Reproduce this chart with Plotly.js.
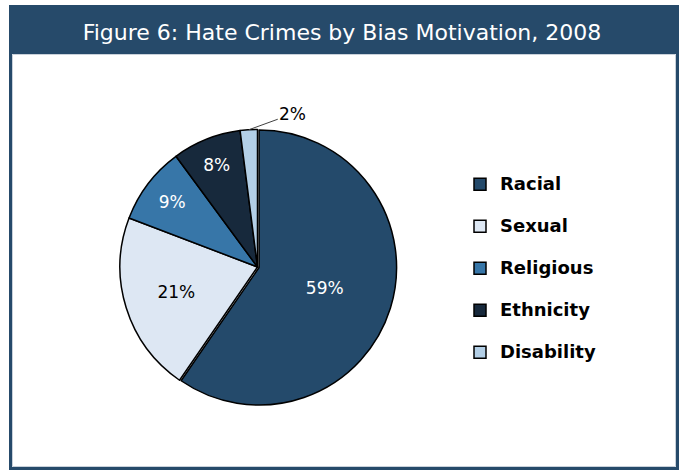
<!DOCTYPE html>
<html>
<head>
<meta charset="utf-8">
<script src="https://cdn.plot.ly/plotly-3.0.1.min.js"></script>
<style>html,body{margin:0;padding:0;background:#fff;}#chart{width:679px;height:470px;}</style>
</head>
<body>
<div id="chart"></div>
<script>
var categories = ["Racial", "Sexual", "Religious", "Ethnicity", "Disability"];
var percentages = [59, 21, 9, 8, 2];
var sliceColors = ["#244a6b", "#dde7f3", "#3776a8", "#17293c", "#b3cfe6"];
var labelColors = ["#ffffff", "#000000", "#ffffff", "#ffffff", "#000000"];
var labelPositions = ["inside", "inside", "inside", "inside", "none"];
var pulls = [0.012, 0, 0, 0, 0];
var chartTitle = "Figure 6: Hate Crimes by Bias Motivation, 2008";

var W = 679, H = 470;
function px(x) { return x / W; }
function py(y) { return 1 - y / H; }

var legendLabels = categories.map(function (c) {
  return '<span style="font-size:18px">' + c + '</span><br> ';
});

var cx = 257.5, cy = 267, r0 = 137.5, r = r0 * 1.012;

// leader label for the small last slice, placed from its data-derived mid-angle
var total = percentages.reduce(function (a, b) { return a + b; }, 0);
var lastIdx = percentages.length - 1;
var before = percentages.slice(0, lastIdx).reduce(function (a, b) { return a + b; }, 0);
var midAngle = (before + percentages[lastIdx] / 2) / total * 2 * Math.PI;
var edgeX = cx + r0 * Math.sin(midAngle);
var edgeY = cy - r0 * Math.cos(midAngle);

var trace = {
  type: "pie",
  labels: legendLabels,
  values: percentages,
  sort: false,
  direction: "clockwise",
  rotation: 0,
  pull: pulls,
  marker: { colors: sliceColors, line: { color: "#000000", width: 1.5 } },
  texttemplate: "%{value}%",
  textposition: labelPositions,
  insidetextorientation: "horizontal",
  textfont: { family: "DejaVu Sans", size: 17, color: labelColors },
  hoverinfo: "none",
  automargin: false,
  domain: { x: [px(cx - r), px(cx + r)], y: [py(cy + r), py(cy - r)] }
};

var layout = {
  width: W, height: H,
  margin: { l: 0, r: 0, t: 0, b: 0, pad: 0 },
  paper_bgcolor: "#ffffff",
  title: {
    text: chartTitle,
    font: { family: "DejaVu Sans", size: 22, color: "#ffffff" },
    x: px(342), xanchor: "center", xref: "paper",
    y: py(32.5), yanchor: "middle", yref: "container",
    automargin: false
  },
  showlegend: true,
  legend: {
    x: px(460), xanchor: "left",
    y: py(168), yanchor: "top",
    font: { family: "DejaVu Sans", size: 15, color: "#000000", weight: "bold" },
    valign: "top",
    bgcolor: "rgba(0,0,0,0)",
    itemclick: false
  },
  annotations: [
    { xref: "paper", yref: "paper", x: px(edgeX), y: py(edgeY),
      text: percentages[lastIdx] + "%", showarrow: true, arrowhead: 0, arrowwidth: 1,
      arrowcolor: "#404040", standoff: 0, ax: 44, ay: -16,
      font: { family: "DejaVu Sans", size: 17, color: "#000000" } }
  ],
  shapes: [
    { type: "rect", xref: "paper", yref: "paper", x0: px(10.5), x1: px(677.5), y0: py(468.5), y1: py(6.5),
      line: { color: "#264a6a", width: 3 }, fillcolor: "rgba(0,0,0,0)", layer: "below" },
    { type: "rect", xref: "paper", yref: "paper", x0: px(12.5), x1: px(675.5), y0: py(466.5), y1: py(54.5),
      line: { color: "#c9d1da", width: 1 }, fillcolor: "rgba(0,0,0,0)", layer: "below" },
    { type: "rect", xref: "paper", yref: "paper", x0: px(9), x1: px(679), y0: py(54), y1: py(5),
      line: { width: 0 }, fillcolor: "#264a6a", layer: "below" }
  ]
};

Plotly.newPlot("chart", [trace], layout, { displayModeBar: false, staticPlot: true });
</script>
</body>
</html>
